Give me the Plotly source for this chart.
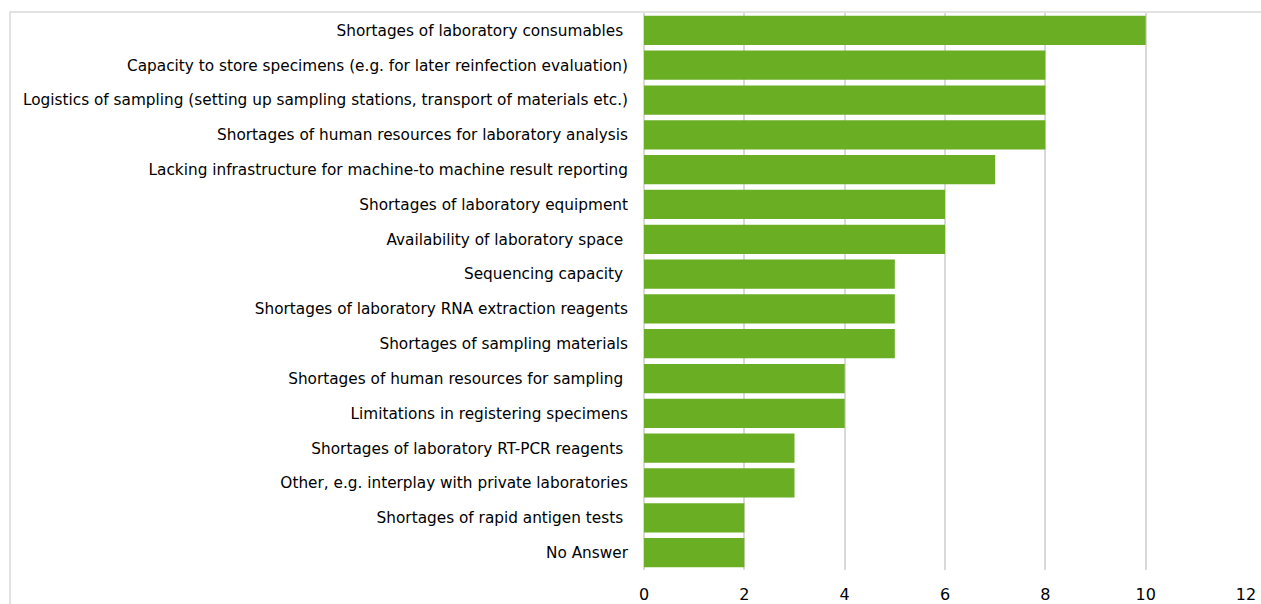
import plotly.graph_objects as go

categories = [
    "Shortages of laboratory consumables\u00a0",
    "Capacity to store specimens (e.g. for later reinfection evaluation)",
    "Logistics of sampling (setting up sampling stations, transport of materials etc.)",
    "Shortages of human resources for laboratory analysis",
    "Lacking infrastructure for machine-to machine result reporting",
    "Shortages of laboratory equipment",
    "Availability of laboratory space\u00a0",
    "Sequencing capacity\u00a0",
    "Shortages of laboratory RNA extraction reagents",
    "Shortages of sampling materials",
    "Shortages of human resources for sampling\u00a0",
    "Limitations in registering specimens",
    "Shortages of laboratory RT-PCR reagents\u00a0",
    "Other, e.g. interplay with private laboratories",
    "Shortages of rapid antigen tests\u00a0",
    "No Answer",
]
counts = [10, 8, 8, 8, 7, 6, 6, 5, 5, 5, 4, 4, 3, 3, 2, 2]
x_ticks = [0, 2, 4, 6, 8, 10, 12]

W, H = 1261, 604
ml, mr, mt, mb = 644, 15, 13, 34
pw, ph = W - ml - mr, H - mt - mb

fig = go.Figure(go.Bar(
    x=counts,
    y=categories,
    orientation="h",
    marker=dict(color="#6aaf23", line=dict(width=0)),
))

# outer chart border (clipped at right/bottom like the original)
fig.add_shape(
    type="rect", xref="paper", yref="paper",
    x0=(10 - ml) / pw, x1=(W + 20 - ml) / pw,
    y0=-(mb + 20) / ph, y1=(ph + mt - 12) / ph,
    line=dict(color="#d9d9d9", width=1.5), layer="below",
)

fig.update_layout(
    width=W, height=H,
    margin=dict(l=ml, r=mr, t=mt, b=mb, autoexpand=False),
    paper_bgcolor="white", plot_bgcolor="white",
    font=dict(family="DejaVu Sans", size=15.3, color="#000000"),
    bargap=0.16,
    showlegend=False,
    xaxis=dict(
        range=[0, 12], tickvals=x_ticks, showgrid=True,
        gridcolor="#d9d9d9", gridwidth=1.5, zeroline=True,
        zerolinecolor="#d9d9d9", zerolinewidth=1.5,
        ticks="", tickfont=dict(size=16), showline=False,
        automargin=False, ticklabelstandoff=13,
    ),
    yaxis=dict(
        autorange="reversed", ticks="", ticklabelstandoff=15,
        showgrid=False, showline=False, automargin=False,
    ),
)

# drop the default page margin so the figure sits at the window origin
fig.write_html(
    "out.html",
    config={"displayModeBar": False},
    post_script="document.body.style.margin='0';",
)
